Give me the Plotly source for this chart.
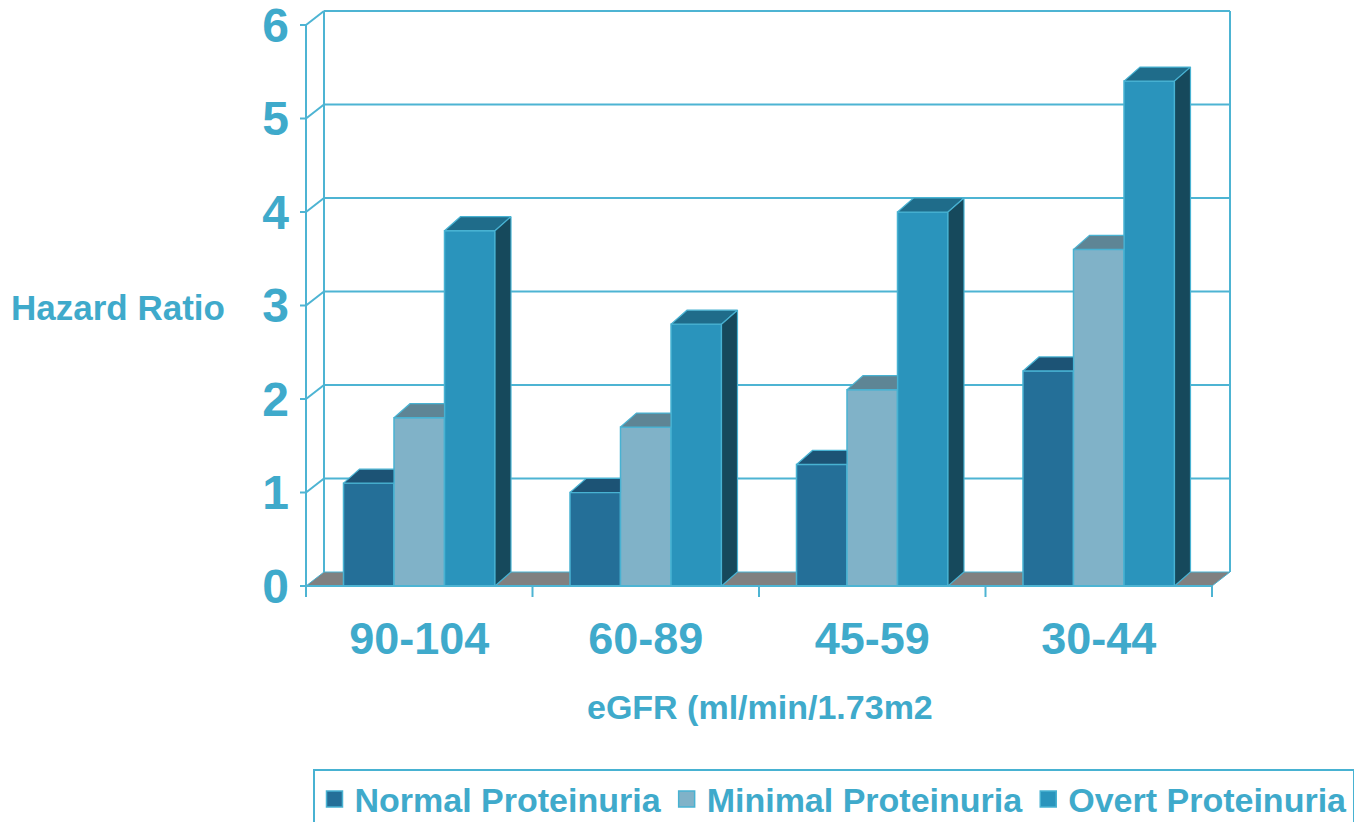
import plotly.graph_objects as go

# ---- data -------------------------------------------------------------
categories = ["90-104", "60-89", "45-59", "30-44"]
series_names = ["Normal Proteinuria", "Minimal Proteinuria", "Overt Proteinuria"]
normal = [1.1, 1.0, 1.3, 2.3]
minimal = [1.8, 1.7, 2.1, 3.6]
overt = [3.8, 2.8, 4.0, 5.4]
y_ticks = [0, 1, 2, 3, 4, 5, 6]

series_values = [normal, minimal, overt]

# ---- styling ----------------------------------------------------------
TEXT = "#3FAACB"
GRID = "#4DB4D3"
EDGE = "#48B2D2"
FLOOR = "#808080"
FONT = "Liberation Sans"
front_colors = ["#246F98", "#80B2C8", "#2A94BC"]
top_colors = ["#1C5375", "#5E8595", "#1F6C8A"]
side_colors = ["#174E6C", "#55798A", "#16495C"]

W, H = 1372, 822
L, R, T, B = 290, 0, 5, 222
PX_CAT = 226.5          # pixels per category
PX_UNIT = 93.5          # pixels per hazard-ratio unit
X0_PX, Y0_PX = 306, 586  # front-left corner of the floor

plot_w = W - L - R
plot_h = H - T - B
x_range = [-0.5 - (X0_PX - L) / PX_CAT, -0.5 + (W - R - X0_PX) / PX_CAT]
y_range = [-(H - B - Y0_PX) / PX_UNIT, (Y0_PX - T) / PX_UNIT]

# depth offsets (in data units) for the pseudo-3D look
wall_dx, wall_dy = 18 / PX_CAT, 14 / PX_UNIT
bar_dx, bar_dy = 16 / PX_CAT, 14 / PX_UNIT
bar_w = 50.5 / PX_CAT
n_cat = len(categories)
x_left, x_right = -0.5, n_cat - 0.5


def paper_x(px):
    return (px - L) / plot_w


def paper_y(py):
    return (H - B - py) / plot_h


fig = go.Figure()

# front faces of the bars
for j, (name, vals) in enumerate(zip(series_names, series_values)):
    fig.add_trace(go.Bar(
        x=list(range(n_cat)), y=vals, name=name, showlegend=False,
        marker=dict(color=front_colors[j], line=dict(color=EDGE, width=1.5)),
        hovertemplate="%{y}<extra>" + name + "</extra>",
    ))

# top and side faces, computed from the same values
for j, vals in enumerate(series_values):
    tx, ty, sx, sy = [], [], [], []
    for i, v in enumerate(vals):
        xc = i + (j - 1) * bar_w
        a, b = xc - bar_w / 2, xc + bar_w / 2
        next_taller = j < len(series_values) - 1 and series_values[j + 1][i] >= v + bar_dy
        if next_taller:
            tx += [a, b, b, a + bar_dx, a, None]
            ty += [v, v, v + bar_dy, v + bar_dy, v, None]
        else:
            tx += [a, b, b + bar_dx, a + bar_dx, a, None]
            ty += [v, v, v + bar_dy, v + bar_dy, v, None]
            sx += [b, b + bar_dx, b + bar_dx, b, b, None]
            sy += [0, bar_dy, v + bar_dy, v, 0, None]
    fig.add_trace(go.Scatter(
        x=tx, y=ty, mode="lines", fill="toself", fillcolor=top_colors[j],
        line=dict(color=EDGE, width=1.2), showlegend=False, hoverinfo="skip",
        cliponaxis=False,
    ))
    if sx:
        fig.add_trace(go.Scatter(
            x=sx, y=sy, mode="lines", fill="toself", fillcolor=side_colors[j],
            line=dict(color=EDGE, width=1.2), showlegend=False, hoverinfo="skip",
            cliponaxis=False,
        ))

# legend entries
for j, name in enumerate(series_names):
    fig.add_trace(go.Scatter(
        x=[None], y=[None], mode="markers", name=name,
        marker=dict(symbol="square", size=18, color=front_colors[j],
                    line=dict(color=EDGE, width=1.5)),
    ))

shapes = []
# floor
shapes.append(dict(
    type="path", layer="below", xref="x", yref="y",
    path=(f"M{x_left},0 L{x_right},0 L{x_right + wall_dx},{wall_dy} "
          f"L{x_left + wall_dx},{wall_dy} Z"),
    fillcolor=FLOOR, line=dict(color=EDGE, width=1),
))
# back wall gridlines and side-wall diagonals
for k in y_ticks[1:]:
    shapes.append(dict(type="line", layer="below", xref="x", yref="y",
                       x0=x_left + wall_dx, x1=x_right + wall_dx,
                       y0=k + wall_dy, y1=k + wall_dy,
                       line=dict(color=GRID, width=2)))
    shapes.append(dict(type="line", layer="below", xref="x", yref="y",
                       x0=x_left, x1=x_left + wall_dx, y0=k, y1=k + wall_dy,
                       line=dict(color=GRID, width=2)))
# wall edges
for xv in (x_left + wall_dx, x_right + wall_dx):
    shapes.append(dict(type="line", layer="below", xref="x", yref="y",
                       x0=xv, x1=xv, y0=wall_dy, y1=y_ticks[-1] + wall_dy,
                       line=dict(color=GRID, width=2)))
# front value axis with tick stubs
tick_down = 11 / PX_UNIT
shapes.append(dict(type="line", layer="above", xref="x", yref="y",
                   x0=x_left, x1=x_left, y0=-tick_down, y1=y_ticks[-1],
                   line=dict(color=GRID, width=2)))
for k in y_ticks:
    shapes.append(dict(type="line", layer="above", xref="x", yref="y",
                       x0=x_left - 6 / PX_CAT, x1=x_left, y0=k, y1=k,
                       line=dict(color=GRID, width=2)))
# front category axis with boundary ticks
shapes.append(dict(type="line", layer="above", xref="x", yref="y",
                   x0=x_left, x1=x_right, y0=0, y1=0,
                   line=dict(color=GRID, width=2)))
for k in range(n_cat + 1):
    xv = x_left + k
    shapes.append(dict(type="line", layer="above", xref="x", yref="y",
                       x0=xv, x1=xv, y0=0, y1=-tick_down,
                       line=dict(color=GRID, width=2)))

annotations = [
    dict(text="Hazard Ratio", xref="paper", yref="paper",
         x=paper_x(118), y=paper_y(307), xanchor="center", yanchor="middle",
         showarrow=False,
         font=dict(family=FONT, size=35, color=TEXT, weight="bold")),
    dict(text="eGFR (ml/min/1.73m2", xref="paper", yref="paper",
         x=paper_x(760), y=paper_y(707), xanchor="center", yanchor="middle",
         showarrow=False,
         font=dict(family=FONT, size=34, color=TEXT, weight="bold")),
]

fig.update_layout(
    width=W, height=H,
    margin=dict(l=L, r=R, t=T, b=B, pad=0, autoexpand=False),
    paper_bgcolor="white", plot_bgcolor="rgba(0,0,0,0)",
    barmode="group", bargap=1 - 3 * bar_w, bargroupgap=0,
    shapes=shapes, annotations=annotations,
    font=dict(family=FONT, color=TEXT),
    xaxis=dict(range=x_range, tickvals=list(range(n_cat)), ticktext=categories,
               showgrid=False, zeroline=False, showline=False, ticks="",
               tickfont=dict(family=FONT, size=45, color=TEXT, weight="bold"),
               ticklabelstandoff=8, ticklabeloverflow="allow"),
    yaxis=dict(range=y_range, tickvals=y_ticks,
               ticktext=[str(v) for v in y_ticks],
               showgrid=False, zeroline=False, showline=False, ticks="",
               tickfont=dict(family=FONT, size=48, color=TEXT, weight="bold"),
               ticklabelstandoff=0, ticklabeloverflow="allow"),
    legend=dict(orientation="h", x=paper_x(313), y=paper_y(769),
                xanchor="left", yanchor="top",
                bordercolor=EDGE, borderwidth=1.5, bgcolor="white",
                font=dict(family=FONT, size=34, color=TEXT, weight="bold"),
                itemclick=False, itemdoubleclick=False),
)

fig.write_html("out.html")
